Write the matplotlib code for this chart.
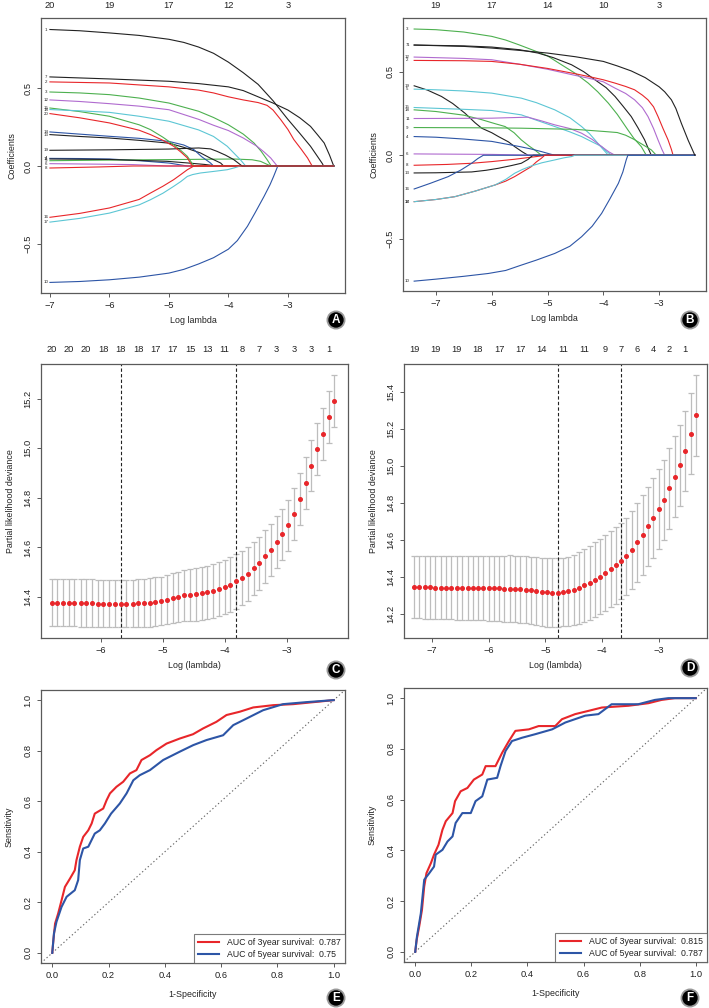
import matplotlib
matplotlib.use("Agg")
import matplotlib.pyplot as plt
import numpy as np

plt.rcParams['font.family'] = ['Liberation Sans', 'DejaVu Sans']

# ---------------- colours ----------------
BLACK = '#222222'
RED = '#E8262A'
GREEN = '#4DB04F'
BLUE = '#2D55A6'
CYAN = '#5CC6D4'
PURPLE = '#B06BCF'

# ---------------- Panel A : coefficient paths (log lambda, coefficient) ----------------
A_labels = ['1', '2', '3', '4', '6', '7', '8', '9', '10', '11', '12', '13', '14', '15', '16', '17', '18', '19', '20']
A_colors = [BLACK, RED, GREEN, BLUE, PURPLE, BLACK, RED, GREEN, BLUE, BLACK, PURPLE, BLACK, BLUE, GREEN, RED, CYAN, CYAN, BLACK, RED]
A_x = [
    [-7, -6.5, -6, -5.5, -5, -4.75, -4.5, -4.25, -4, -3.75, -3.5, -3.25, -3.0, -2.8, -2.62, -2.5, -2.42, -2.40, -2.23],
    [-7, -6, -5, -4.5, -4.25, -4, -3.75, -3.5, -3.35, -3.25, -3.12, -3.0, -2.9, -2.78, -2.67, -2.6, -2.59, -2.23],
    [-7, -6.5, -6, -5.5, -5, -4.5, -4.25, -4, -3.75, -3.57, -3.45, -3.35, -3.28, -2.23],
    [-7, -6.5, -6, -5.5, -5, -4.69, -2.23],
    [-7, -6, -5.6, -5.03, -2.23],
    [-7, -6, -5, -4.5, -4, -3.75, -3.5, -3.25, -3.0, -2.8, -2.62, -2.5, -2.39, -2.3, -2.23],
    [-7, -6.16, -5.6, -2.23],
    [-7, -6, -5.03, -3.91, -3.6, -3.46, -3.29, -2.23],
    [-7, -6.5, -6, -5.5, -5, -4.75, -4.5, -4.25, -4, -3.85, -3.68, -3.55, -3.4, -3.3, -3.24, -3.17, -2.23],
    [-7, -6, -5.03, -4.7, -4.4, -4.2, -2.23],
    [-7, -6.5, -6, -5.5, -5, -4.5, -4.25, -4, -3.75, -3.52, -3.4, -3.29, -3.18, -2.23],
    [-7, -6.5, -6, -5.5, -5, -4.75, -4.47, -4.3, -4.13, -4.08, -2.23],
    [-7, -6.5, -6, -5.5, -5, -4.75, -4.58, -4.45, -4.3, -4.25, -2.23],
    [-7, -6.5, -6, -5.5, -5.31, -5.1, -4.92, -4.8, -4.69, -4.58, -2.23],
    [-7, -6.5, -6, -5.5, -5.31, -5.1, -4.92, -4.8, -4.69, -4.58, -2.23],
    [-7, -6.5, -6, -5.5, -5.31, -5.1, -4.92, -4.8, -4.69, -4.6, -4.47, -4.25, -4.02, -3.9, -3.8, -2.23],
    [-7, -6.5, -6, -5.5, -5, -4.5, -4.25, -4.02, -3.9, -3.8, -3.71, -2.23],
    [-7, -6, -5, -4.5, -4.3, -4.19, -4.05, -3.91, -3.77, -2.23],
    [-7, -6.5, -6, -5.5, -5.31, -5.1, -4.92, -4.8, -4.69, -4.61, -2.23],
]
A_y = [
    [0.878, 0.870, 0.856, 0.840, 0.815, 0.795, 0.765, 0.725, 0.668, 0.600, 0.525, 0.420, 0.300, 0.210, 0.127, 0.060, 0.015, 0, 0],
    [0.541, 0.534, 0.509, 0.488, 0.470, 0.445, 0.425, 0.408, 0.390, 0.360, 0.298, 0.235, 0.170, 0.110, 0.052, 0.005, 0, 0],
    [0.476, 0.470, 0.459, 0.437, 0.405, 0.352, 0.312, 0.265, 0.205, 0.148, 0.095, 0.041, 0, 0],
    [0.049, 0.048, 0.045, 0.034, 0.019, 0, 0],
    [0.015, 0.011, 0.009, 0, 0],
    [0.573, 0.560, 0.545, 0.530, 0.509, 0.485, 0.445, 0.405, 0.360, 0.310, 0.255, 0.200, 0.148, 0.070, 0],
    [-0.013, -0.006, 0, 0],
    [0.034, 0.038, 0.041, 0.045, 0.040, 0.030, 0, 0],
    [-0.749, -0.743, -0.732, -0.715, -0.689, -0.665, -0.630, -0.590, -0.535, -0.480, -0.388, -0.300, -0.195, -0.120, -0.067, 0, 0],
    [0.045, 0.042, 0.030, 0.020, 0.010, 0, 0],
    [0.425, 0.415, 0.401, 0.385, 0.362, 0.300, 0.262, 0.228, 0.180, 0.127, 0.090, 0.052, 0, 0],
    [0.202, 0.190, 0.180, 0.165, 0.147, 0.120, 0.084, 0.050, 0.019, 0, 0],
    [0.219, 0.205, 0.191, 0.178, 0.158, 0.135, 0.105, 0.060, 0.019, 0, 0],
    [0.373, 0.350, 0.320, 0.265, 0.234, 0.185, 0.137, 0.100, 0.062, 0, 0],
    [-0.330, -0.305, -0.270, -0.215, -0.174, -0.130, -0.088, -0.055, -0.024, 0, 0],
    [-0.361, -0.337, -0.303, -0.250, -0.217, -0.175, -0.131, -0.100, -0.067, -0.055, -0.045, -0.035, -0.024, -0.012, 0, 0],
    [0.363, 0.355, 0.345, 0.320, 0.288, 0.232, 0.190, 0.127, 0.080, 0.041, 0, 0],
    [0.101, 0.104, 0.109, 0.116, 0.110, 0.094, 0.070, 0.041, 0, 0],
    [0.337, 0.310, 0.277, 0.230, 0.202, 0.165, 0.127, 0.090, 0.052, 0, 0],
]
A_top_pos = [-7, -6, -5, -4, -3]
A_top_lab = ['20', '19', '17', '12', '3']

# ---------------- Panel B : coefficient paths ----------------
B_labels = ['3', '1', '12', '2', '19', '5', '15', '18', '11', '9', '4', '6', '8', '13', '16', '14', '17', '10', '7']
B_colors = [GREEN, BLACK, PURPLE, RED, BLACK, CYAN, CYAN, GREEN, PURPLE, GREEN, BLUE, PURPLE, RED, BLACK, BLUE, RED, CYAN, BLUE, BLACK]
B_x = [
    [-7.39, -7, -6.5, -6, -5.75, -5.5, -5.25, -5, -4.75, -4.5, -4.27, -4.1, -3.91, -3.75, -3.56, -3.45, -3.32, -3.23, -2.36],
    [-7.39, -6.5, -6, -5.5, -5.17, -4.9, -4.57, -4.35, -4.15, -3.95, -3.79, -3.65, -3.5, -3.38, -3.26, -3.2, -3.14, -2.36],
    [-7.39, -6.5, -6, -5.5, -5, -4.5, -4.27, -4, -3.79, -3.6, -3.44, -3.3, -3.2, -3.1, -3.02, -2.95, -2.9, -2.36],
    [-7.39, -6.5, -6, -5.5, -5, -4.5, -4.27, -4, -3.79, -3.6, -3.44, -3.3, -3.2, -3.1, -3.02, -2.93, -2.84, -2.78, -2.75, -2.36],
    [-7.39, -7.15, -6.9, -6.7, -6.48, -6.3, -6.18, -6.0, -5.88, -5.7, -5.59, -5.45, -5.35, -2.36],
    [-7.39, -7, -6.5, -6, -5.47, -5.2, -4.87, -4.6, -4.39, -4.25, -4.15, -4.03, -3.91, -2.36],
    [-7.39, -6.5, -6, -5.47, -5.2, -4.87, -4.6, -4.39, -4.2, -4.03, -3.95, -3.85, -2.36],
    [-7.39, -7, -6.5, -6.2, -5.95, -5.76, -5.6, -5.47, -5.33, -5.23, -5.11, -2.36],
    [-7.39, -6.5, -6, -5.35, -5.1, -4.87, -4.6, -4.39, -4.2, -4.03, -3.9, -3.79, -2.36],
    [-7.39, -6, -5.47, -4.5, -3.97, -3.75, -3.6, -3.45, -3.3, -3.14, -3.05, -2.36],
    [-7.39, -7, -6.5, -6, -5.5, -5.3, -5.11, -4.95, -4.87, -2.36],
    [-7.39, -6, -5.47, -5.17, -2.36],
    [-7.39, -6.8, -6.36, -6, -5.59, -5.3, -5.11, -5.05, -2.36],
    [-7.39, -7, -6.36, -6.1, -5.88, -5.65, -5.47, -5.35, -5.29, -5.26, -2.36],
    [-7.39, -7.1, -6.78, -6.55, -6.36, -6.25, -6.15, -2.36],
    [-7.39, -7, -6.66, -6.3, -5.94, -5.75, -5.59, -5.45, -5.29, -5.2, -5.11, -5.05, -2.36],
    [-7.39, -7, -6.66, -6.3, -5.94, -5.75, -5.59, -5.45, -5.29, -5.1, -4.87, -4.7, -4.57, -4.51, -2.36],
    [-7.39, -7, -6.5, -6.06, -5.75, -5.47, -5.2, -4.87, -4.6, -4.39, -4.2, -4.03, -3.88, -3.73, -3.65, -3.59, -3.56, -2.36],
    [-7.39, -6.5, -6, -5.5, -5, -4.5, -4, -3.75, -3.5, -3.25, -3, -2.9, -2.78, -2.7, -2.6, -2.48, -2.36],
]
B_y = [
    [0.756, 0.752, 0.738, 0.712, 0.690, 0.660, 0.628, 0.595, 0.542, 0.490, 0.432, 0.380, 0.312, 0.245, 0.152, 0.100, 0.052, 0, 0],
    [0.660, 0.655, 0.648, 0.632, 0.612, 0.585, 0.542, 0.500, 0.452, 0.405, 0.352, 0.295, 0.232, 0.165, 0.092, 0.045, 0, 0],
    [0.588, 0.580, 0.572, 0.545, 0.515, 0.478, 0.462, 0.440, 0.402, 0.370, 0.332, 0.285, 0.232, 0.160, 0.092, 0.035, 0, 0],
    [0.568, 0.566, 0.562, 0.545, 0.520, 0.488, 0.472, 0.452, 0.432, 0.412, 0.392, 0.360, 0.332, 0.290, 0.232, 0.160, 0.092, 0.035, 0, 0],
    [0.416, 0.390, 0.352, 0.310, 0.252, 0.195, 0.162, 0.135, 0.112, 0.080, 0.052, 0.020, 0, 0],
    [0.396, 0.392, 0.385, 0.372, 0.342, 0.315, 0.272, 0.225, 0.172, 0.130, 0.092, 0.045, 0, 0],
    [0.286, 0.275, 0.268, 0.242, 0.210, 0.172, 0.140, 0.112, 0.080, 0.052, 0.025, 0, 0],
    [0.272, 0.262, 0.240, 0.215, 0.190, 0.172, 0.135, 0.092, 0.055, 0.032, 0, 0],
    [0.220, 0.221, 0.222, 0.228, 0.205, 0.182, 0.160, 0.132, 0.095, 0.052, 0.020, 0, 0],
    [0.166, 0.164, 0.162, 0.155, 0.142, 0.136, 0.120, 0.095, 0.065, 0.032, 0, 0],
    [0.112, 0.108, 0.097, 0.083, 0.052, 0.038, 0.022, 0.007, 0, 0],
    [0.008, 0.005, 0.002, 0, 0],
    [-0.060, -0.055, -0.048, -0.038, -0.024, -0.012, -0.004, 0, 0],
    [-0.106, -0.105, -0.100, -0.090, -0.078, -0.062, -0.048, -0.025, -0.008, 0, 0],
    [-0.202, -0.168, -0.128, -0.088, -0.048, -0.020, 0, 0],
    [-0.278, -0.265, -0.248, -0.215, -0.178, -0.155, -0.128, -0.100, -0.068, -0.040, -0.018, 0, 0],
    [-0.278, -0.265, -0.248, -0.215, -0.178, -0.145, -0.108, -0.085, -0.064, -0.045, -0.028, -0.015, -0.008, 0, 0],
    [-0.754, -0.742, -0.725, -0.708, -0.690, -0.658, -0.628, -0.588, -0.545, -0.488, -0.425, -0.348, -0.260, -0.168, -0.100, -0.028, 0, 0],
    [0.660, 0.652, 0.642, 0.628, 0.612, 0.590, 0.562, 0.535, 0.505, 0.465, 0.410, 0.380, 0.332, 0.280, 0.190, 0.090, 0],
]
B_top_pos = [-7, -6, -5, -4, -3]
B_top_lab = ['19', '17', '14', '10', '3']

# ---------------- Panel C : CV curve ----------------
C_loglam = [-6.80, -6.71, -6.61, -6.52, -6.43, -6.33, -6.24, -6.15, -6.05, -5.96,
            -5.87, -5.77, -5.68, -5.59, -5.49, -5.40, -5.31, -5.21, -5.12, -5.03,
            -4.93, -4.84, -4.75, -4.65, -4.56, -4.47, -4.37, -4.28, -4.19, -4.09,
            -4.00, -3.91, -3.81, -3.72, -3.63, -3.53, -3.44, -3.35, -3.25, -3.16,
            -3.07, -2.97, -2.88, -2.79, -2.69, -2.60, -2.51, -2.41, -2.32, -2.23]
C_dev = [14.378, 14.378, 14.377, 14.377, 14.377, 14.376, 14.376, 14.376, 14.374, 14.374,
         14.374, 14.373, 14.373, 14.373, 14.374, 14.376, 14.377, 14.378, 14.381, 14.384,
         14.389, 14.395, 14.401, 14.407, 14.408, 14.411, 14.415, 14.419, 14.424, 14.432,
         14.440, 14.450, 14.463, 14.477, 14.493, 14.516, 14.537, 14.564, 14.591, 14.623,
         14.653, 14.689, 14.736, 14.795, 14.860, 14.930, 14.997, 15.057, 15.126, 15.191]
C_sd = [0.095, 0.095, 0.095, 0.095, 0.095, 0.095, 0.095, 0.095, 0.095, 0.095,
        0.095, 0.095, 0.095, 0.095, 0.096, 0.096, 0.097, 0.097, 0.098, 0.098,
        0.099, 0.101, 0.102, 0.104, 0.105, 0.106, 0.107, 0.108, 0.108, 0.108,
        0.109, 0.110, 0.111, 0.110, 0.109, 0.108, 0.107, 0.106, 0.105, 0.104,
        0.104, 0.104, 0.104, 0.104, 0.104, 0.104, 0.105, 0.105, 0.105, 0.105]
C_nz = [20, 20, 20, 18, 18, 18, 17, 17, 15, 13, 11, 8, 7, 3, 3, 3, 1]
C_nz_idx = [0, 3, 6, 9, 12, 15, 18, 21, 24, 27, 30, 33, 36, 39, 42, 45, 48]
C_min_idx = 12
C_1se_idx = 32

# ---------------- Panel D : CV curve ----------------
D_loglam = [-7.31, -7.22, -7.12, -7.03, -6.94, -6.84, -6.75, -6.66, -6.56, -6.47,
            -6.37, -6.28, -6.19, -6.09, -6.00, -5.91, -5.81, -5.72, -5.63, -5.53,
            -5.44, -5.34, -5.25, -5.16, -5.06, -4.97, -4.88, -4.78, -4.69, -4.60,
            -4.50, -4.41, -4.31, -4.22, -4.13, -4.03, -3.94, -3.85, -3.75, -3.66,
            -3.57, -3.47, -3.38, -3.28, -3.19, -3.10, -3.00, -2.91, -2.82, -2.72,
            -2.63, -2.54, -2.44, -2.35]
D_dev = [14.343, 14.343, 14.343, 14.343, 14.341, 14.341, 14.341, 14.341, 14.341, 14.341,
         14.339, 14.339, 14.339, 14.339, 14.337, 14.337, 14.337, 14.336, 14.336, 14.334,
         14.332, 14.330, 14.326, 14.321, 14.317, 14.316, 14.314, 14.314, 14.317, 14.321,
         14.328, 14.341, 14.354, 14.368, 14.384, 14.401, 14.420, 14.442, 14.462, 14.485,
         14.511, 14.545, 14.587, 14.626, 14.673, 14.719, 14.765, 14.816, 14.879, 14.943,
         15.004, 15.082, 15.177, 15.275]
D_sd = [0.169, 0.169, 0.170, 0.170, 0.171, 0.171, 0.172, 0.172, 0.173, 0.173,
        0.174, 0.175, 0.175, 0.176, 0.177, 0.178, 0.178, 0.179, 0.180, 0.181,
        0.182, 0.183, 0.184, 0.185, 0.186, 0.186, 0.187, 0.187, 0.186, 0.188,
        0.192, 0.196, 0.199, 0.201, 0.203, 0.205, 0.206, 0.207, 0.208, 0.208,
        0.210, 0.212, 0.214, 0.215, 0.216, 0.217, 0.217, 0.217, 0.218, 0.218,
        0.218, 0.218, 0.218, 0.218]
D_nz = [19, 19, 19, 18, 17, 17, 14, 11, 11, 9, 7, 6, 4, 2, 1]
D_nz_idx = [0, 4, 8, 12, 16, 20, 24, 28, 32, 36, 39, 42, 45, 48, 51]
D_min_idx = 27
D_1se_idx = 39

# ---------------- Panel E : ROC ----------------
E_fpr3 = [0, 0.004, 0.010, 0.021, 0.033, 0.045, 0.063, 0.080, 0.086, 0.098, 0.110, 0.128, 0.140, 0.151,
          0.181, 0.193, 0.205, 0.228, 0.252, 0.276, 0.299, 0.317, 0.347, 0.370, 0.406, 0.453, 0.500,
          0.536, 0.583, 0.619, 0.666, 0.714, 0.785, 0.856, 0.938, 1.0]
E_tpr3 = [0, 0.050, 0.116, 0.156, 0.208, 0.261, 0.294, 0.327, 0.367, 0.420, 0.459, 0.485, 0.512, 0.551,
          0.571, 0.604, 0.631, 0.657, 0.677, 0.710, 0.723, 0.763, 0.782, 0.802, 0.828, 0.848, 0.865,
          0.888, 0.914, 0.941, 0.954, 0.971, 0.980, 0.984, 0.993, 1.0]
E_fpr5 = [0, 0.006, 0.015, 0.033, 0.051, 0.080, 0.092, 0.098, 0.110, 0.128, 0.151, 0.169, 0.187, 0.209,
          0.240, 0.264, 0.288, 0.311, 0.347, 0.394, 0.453, 0.501, 0.548, 0.607, 0.643, 0.690, 0.749,
          0.820, 0.903, 1.0]
E_tpr5 = [0, 0.077, 0.123, 0.182, 0.222, 0.248, 0.288, 0.367, 0.413, 0.420, 0.472, 0.485, 0.512, 0.551,
          0.591, 0.631, 0.683, 0.703, 0.723, 0.763, 0.796, 0.822, 0.842, 0.861, 0.901, 0.927, 0.960,
          0.984, 0.992, 1.0]
E_auc = ['0.787', '0.75']

# ---------------- Panel F : ROC ----------------
F_fpr3 = [0, 0.005, 0.014, 0.024, 0.032, 0.040, 0.056, 0.067, 0.083, 0.097, 0.109, 0.133, 0.142, 0.162,
          0.186, 0.209, 0.239, 0.251, 0.286, 0.310, 0.334, 0.357, 0.405, 0.440, 0.499, 0.523, 0.570,
          0.618, 0.665, 0.760, 0.831, 0.878, 0.925, 1.0]
F_tpr3 = [0, 0.046, 0.099, 0.165, 0.257, 0.310, 0.350, 0.383, 0.422, 0.481, 0.515, 0.547, 0.594, 0.633,
          0.646, 0.679, 0.699, 0.732, 0.732, 0.785, 0.831, 0.871, 0.877, 0.890, 0.890, 0.917, 0.937,
          0.950, 0.963, 0.970, 0.980, 0.993, 1.0, 1.0]
F_fpr5 = [0, 0.006, 0.020, 0.032, 0.050, 0.067, 0.073, 0.097, 0.115, 0.133, 0.144, 0.168, 0.198, 0.215,
          0.239, 0.257, 0.292, 0.304, 0.322, 0.345, 0.381, 0.428, 0.488, 0.535, 0.606, 0.653, 0.700,
          0.795, 0.854, 0.902, 1.0]
F_tpr5 = [0, 0.059, 0.152, 0.284, 0.310, 0.336, 0.383, 0.402, 0.435, 0.455, 0.508, 0.547, 0.547, 0.594,
          0.613, 0.679, 0.686, 0.732, 0.792, 0.831, 0.844, 0.858, 0.877, 0.904, 0.931, 0.937, 0.976,
          0.976, 0.993, 1.0, 1.0]
F_auc = ['0.815', '0.787']

# =========================================================
W, H = 709, 1008
fig = plt.figure(figsize=(W / 100, H / 100), dpi=100)

SPINE = '#5a5a5a'
TXT = '#222222'
TFS = 6.7
LFS = 6.4


def add_axes(l, r, t, b):
    return fig.add_axes([l / W, 1 - b / H, (r - l) / W, (b - t) / H])


def style(ax, yticks, yfmt, xticks, xfmt):
    for s in ax.spines.values():
        s.set_color(SPINE)
        s.set_linewidth(0.9)
    ax.set_xticks(xticks)
    ax.set_xticklabels([xfmt.format(v).replace('-', '\u2212') for v in xticks])
    ax.set_yticks(yticks)
    ax.set_yticklabels([yfmt.format(v).replace('-', '\u2212') for v in yticks],
                       rotation=90, va='center')
    ax.tick_params(direction='out', length=3.2, width=0.7, color=SPINE,
                   labelsize=TFS, labelcolor=TXT, pad=2.8)


def badge(px, py, letter):
    fig.text(px / W, 1 - py / H, letter, color='white', fontsize=8.5, fontweight='bold',
             ha='center', va='center',
             bbox=dict(boxstyle='circle,pad=0.22', fc='black', ec='#9a9a9a', lw=1.3))


def top_labels(ax, pos, labs, pad):
    sec = ax.secondary_xaxis('top')
    sec.set_xticks(pos)
    sec.set_xticklabels(labs)
    sec.tick_params(length=0, labelsize=TFS, labelcolor=TXT, pad=pad)
    sec.spines['top'].set_visible(False)


def coef_panel(ax, xs, ys, cols, labs, xlim, ylim, label_x, top_pos, top_lab):
    for x, y, c in zip(xs, ys, cols):
        ax.plot(x, y, color=c, lw=0.8, solid_joinstyle='round')
    for x, y, c, lab in zip(xs, ys, cols, labs):
        ax.text(label_x, y[0], lab, fontsize=3.2, ha='center', va='center', color=TXT)
    ax.set_xlim(*xlim)
    ax.set_ylim(*ylim)
    top_labels(ax, top_pos, top_lab, 6)
    ax.set_xlabel('Log lambda', fontsize=LFS, color=TXT, labelpad=4)
    ax.set_ylabel('Coefficients', fontsize=LFS, color=TXT, labelpad=5)


def cv_panel(ax, x, y, sd, nz, nz_idx, imin, i1se, xlim, ylim):
    x = np.array(x)
    y = np.array(y)
    sd = np.array(sd)
    ax.errorbar(x, y, yerr=sd, fmt='none', ecolor='#BDBDBD', elinewidth=0.9,
                capsize=2.0, capthick=0.9)
    ax.plot(x, y, 'o', color=RED, ms=2.6, mec=RED, zorder=3)
    ax.axvline(x[imin], color=BLACK, ls=(0, (3, 2)), lw=0.8)
    ax.axvline(x[i1se], color=BLACK, ls=(0, (3, 2)), lw=0.8)
    ax.set_xlim(*xlim)
    ax.set_ylim(*ylim)
    top_labels(ax, x[nz_idx], [str(v) for v in nz], 7)
    ax.set_xlabel('Log (lambda)', fontsize=LFS, color=TXT, labelpad=4)
    ax.set_ylabel('Partial likelihood deviance', fontsize=LFS, color=TXT, labelpad=6)


def roc_panel(ax, f3, t3, f5, t5, auc):
    ax.plot([-0.1, 1.1], [-0.1, 1.1], color='#666666', ls=(0, (1.2, 2.2)), lw=0.8)
    ax.plot(f3, t3, color=RED, lw=1.5, label='AUC of 3year survival:  ' + auc[0])
    ax.plot(f5, t5, color=BLUE, lw=1.5, label='AUC of 5year survival:  ' + auc[1])
    ax.set_xlim(-0.04, 1.04)
    ax.set_ylim(-0.04, 1.04)
    leg = ax.legend(loc='lower right', fontsize=6.3, frameon=True, fancybox=False,
                    borderaxespad=0, handlelength=2.4, handletextpad=0.9,
                    borderpad=0.5, labelspacing=0.3)
    leg.get_frame().set_edgecolor(SPINE)
    leg.get_frame().set_linewidth(0.8)
    for t in leg.get_texts():
        t.set_color(TXT)
    ax.set_xlabel('1-Specificity', fontsize=LFS, color=TXT, labelpad=7)
    ax.set_ylabel('Sensitivity', fontsize=LFS, color=TXT, labelpad=7)


# Panel A
axA = add_axes(41, 345, 18, 293)
coef_panel(axA, A_x, A_y, A_colors, A_labels, (-7.15, -2.04), (-0.817, 0.952), -7.07,
           A_top_pos, A_top_lab)
style(axA, [-0.5, 0.0, 0.5], '{:.1f}', [-7, -6, -5, -4, -3], '{:d}')

# Panel B
axB = add_axes(403, 706, 18, 291)
coef_panel(axB, B_x, B_y, B_colors, B_labels, (-7.59, -2.16), (-0.813, 0.822), -7.51,
           B_top_pos, B_top_lab)
style(axB, [-0.5, 0.0, 0.5], '{:.1f}', [-7, -6, -5, -4, -3], '{:d}')

# Panel C
axC = add_axes(41, 348, 364, 638)
cv_panel(axC, C_loglam, C_dev, C_sd, C_nz, C_nz_idx, C_min_idx, C_1se_idx,
         (-6.97, -2.006), (14.235, 15.34))
style(axC, [14.4, 14.6, 14.8, 15.0, 15.2], '{:.1f}', [-6, -5, -4, -3], '{:d}')

# Panel D
axD = add_axes(404, 707, 364, 638)
cv_panel(axD, D_loglam, D_dev, D_sd, D_nz, D_nz_idx, D_min_idx, D_1se_idx,
         (-7.49, -2.15), (14.068, 15.554))
style(axD, [14.2, 14.4, 14.6, 14.8, 15.0, 15.2, 15.4], '{:.1f}', [-7, -6, -5, -4, -3], '{:d}')

# Panel E
axE = add_axes(41, 345, 690, 963)
roc_panel(axE, E_fpr3, E_tpr3, E_fpr5, E_tpr5, E_auc)
style(axE, [0.0, 0.2, 0.4, 0.6, 0.8, 1.0], '{:.1f}', [0.0, 0.2, 0.4, 0.6, 0.8, 1.0], '{:.1f}')

# Panel F
axF = add_axes(404, 707, 688, 962)
roc_panel(axF, F_fpr3, F_tpr3, F_fpr5, F_tpr5, F_auc)
style(axF, [0.0, 0.2, 0.4, 0.6, 0.8, 1.0], '{:.1f}', [0.0, 0.2, 0.4, 0.6, 0.8, 1.0], '{:.1f}')

badge(336, 320, 'A')
badge(690, 320, 'B')
badge(336, 670, 'C')
badge(690, 668, 'D')
badge(336, 998, 'E')
badge(690, 998, 'F')

fig.savefig('out.png', dpi=100)
